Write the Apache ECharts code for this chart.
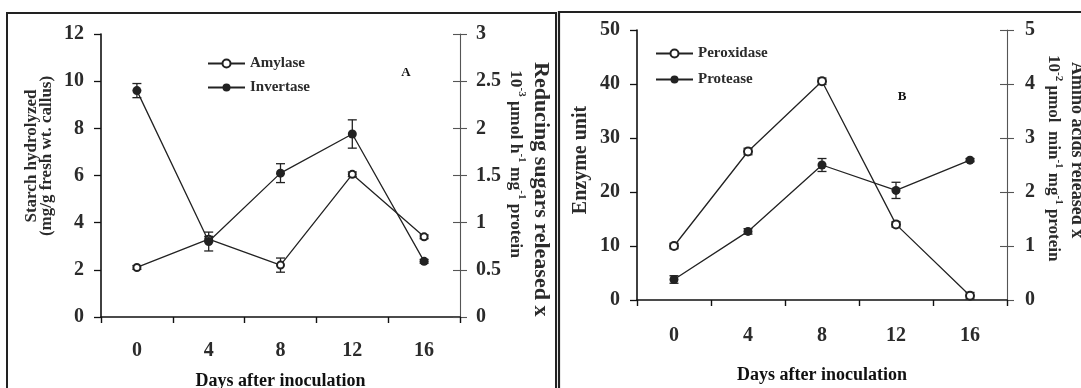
<!DOCTYPE html>
<html>
<head>
<meta charset="utf-8">
<script src="https://cdn.jsdelivr.net/npm/echarts@6/dist/echarts.min.js"></script>
<style>
html,body{margin:0;padding:0;background:#fff;}
#chart{width:1081px;height:388px;}
</style>
</head>
<body>
<div id="chart"></div>
<script>
// ---- data ----
const days = ['0', '4', '8', '12', '16'];
// Panel A
const amylase = [2.1, 3.3, 2.2, 6.05, 3.4];          // mg/g fresh wt. (left axis)
const amylaseErr = [0.08, 0.12, 0.3, 0.1, 0.08];
const invertase = [2.4, 0.8, 1.525, 1.94, 0.59];     // right axis
const invertaseErr = [0.075, 0.1, 0.1, 0.15, 0.02];
// Panel B
const peroxidase = [10, 27.5, 40.5, 14, 0.8];        // enzyme unit (left axis)
const peroxidaseErr = [0.5, 0.6, 0.6, 0.5, 0.6];
const protease = [0.38, 1.27, 2.5, 2.03, 2.59];      // right axis
const proteaseErr = [0.07, 0.05, 0.12, 0.15, 0.03];
// axis scales
const axisA_left = {min: 0, max: 12, interval: 2};
const axisA_right = {min: 0, max: 3, interval: 0.5};
const axisB_left = {min: 0, max: 50, interval: 10};
const axisB_right = {min: 0, max: 5, interval: 1};

const FONT = '"Liberation Serif", "Times New Roman", serif';
const TXT = '#2b2b2b';
const LINE = '#222';

function errData(vals, errs) {
  return vals.map((v, i) => [i, v - errs[i], v + errs[i]]);
}
function errRender(params, api) {
  const x = api.value(0);
  const p1 = api.coord([x, api.value(1)]);
  const p2 = api.coord([x, api.value(2)]);
  const w = 4.5;
  const st = {stroke: LINE, lineWidth: 1.3};
  return {
    type: 'group',
    children: [
      {type: 'line', shape: {x1: p1[0], y1: p1[1], x2: p2[0], y2: p2[1]}, style: st},
      {type: 'line', shape: {x1: p1[0] - w, y1: p1[1], x2: p1[0] + w, y2: p1[1]}, style: st},
      {type: 'line', shape: {x1: p2[0] - w, y1: p2[1], x2: p2[0] + w, y2: p2[1]}, style: st}
    ]
  };
}

function xAxis(grid, labelMargin, nameGap) {
  return {
    type: 'category', gridIndex: grid, data: days, boundaryGap: true,
    axisLine: {lineStyle: {color: '#111', width: 1.6}},
    axisTick: {show: true, length: 6, alignWithLabel: false, lineStyle: {color: '#111', width: 1.4}},
    axisLabel: {color: TXT, fontFamily: FONT, fontWeight: 'bold', fontSize: 20, margin: labelMargin},
    name: 'Days after inoculation', nameLocation: 'middle', nameGap: nameGap,
    nameTextStyle: {color: '#111', fontFamily: FONT, fontWeight: 'bold', fontSize: 18},
    splitLine: {show: false}
  };
}
function yLeft(grid, sc) {
  return {
    type: 'value', gridIndex: grid, position: 'left', min: sc.min, max: sc.max, interval: sc.interval,
    axisLine: {show: true, lineStyle: {color: '#111', width: 1.6}},
    axisTick: {show: true, length: 7, lineStyle: {color: '#111', width: 1.3}},
    axisLabel: {color: TXT, fontFamily: FONT, fontWeight: 'bold', fontSize: 20, margin: 17},
    splitLine: {show: false}
  };
}
function yRight(grid, sc, inside, margin) {
  return {
    type: 'value', gridIndex: grid, position: 'right', min: sc.min, max: sc.max, interval: sc.interval,
    axisLine: {show: !inside, lineStyle: {color: '#555', width: 1.1}},
    axisTick: {show: true, inside: inside, length: 7, lineStyle: {color: '#555', width: 1.1}},
    axisLabel: {show: !inside, color: TXT, fontFamily: FONT, fontWeight: 'bold', fontSize: 20, margin: margin},
    splitLine: {show: false}
  };
}
function lineSeries(name, xi, yi, data, symbol, size) {
  return {
    name: name, type: 'line', xAxisIndex: xi, yAxisIndex: yi, data: data,
    symbol: symbol, symbolSize: size, z: 5,
    lineStyle: {color: LINE, width: 1.3},
    itemStyle: {color: LINE, borderWidth: 1.4},
    animation: false
  };
}
function errSeries(xi, yi, vals, errs) {
  return {
    type: 'custom', xAxisIndex: xi, yAxisIndex: yi, data: errData(vals, errs),
    encode: {x: 0, y: [1, 2]}, renderItem: errRender, z: 4, silent: true, animation: false
  };
}
const legendText = {color: TXT, fontFamily: FONT, fontWeight: 'bold', fontSize: 15};

const option = {
  backgroundColor: '#fff',
  animation: false,
  grid: [
    {left: 101, top: 34, width: 359, height: 283, outerBoundsMode: 'none', containLabel: false},
    {left: 637, top: 30, width: 370, height: 270, outerBoundsMode: 'none', containLabel: false}
  ],
  xAxis: [xAxis(0, 24, 55), xAxis(1, 26, 66)],
  yAxis: [
    yLeft(0, axisA_left),
    yRight(0, axisA_right, false, 16),
    yRight(0, axisA_right, true, 16),
    yLeft(1, axisB_left),
    yRight(1, axisB_right, false, 18),
    yRight(1, axisB_right, true, 18)
  ],
  legend: [
    {data: ['Amylase', 'Invertase'], orient: 'vertical', left: 207, top: 56, padding: 0, itemWidth: 37, itemHeight: 10,
     itemGap: 9, textStyle: legendText},
    {data: ['Peroxidase', 'Protease'], orient: 'vertical', left: 655, top: 46, padding: 0, itemWidth: 37, itemHeight: 10,
     itemGap: 11, textStyle: legendText}
  ],
  series: [
    lineSeries('Amylase', 0, 0, amylase, 'emptyCircle', 7),
    errSeries(0, 0, amylase, amylaseErr),
    lineSeries('Invertase', 0, 1, invertase, 'circle', 9),
    errSeries(0, 1, invertase, invertaseErr),
    lineSeries('Peroxidase', 1, 3, peroxidase, 'emptyCircle', 8),
    errSeries(1, 3, peroxidase, peroxidaseErr),
    lineSeries('Protease', 1, 4, protease, 'circle', 9),
    errSeries(1, 4, protease, proteaseErr)
  ],
  graphic: [
    // panel frames
    {type: 'polyline', shape: {points: [[7, 400], [7, 13], [556, 13], [556, 400]]}, style: {stroke: '#222', lineWidth: 2, fill: null}},
    {type: 'polyline', shape: {points: [[559, 400], [559, 12], [1090, 12]]}, style: {stroke: '#222', lineWidth: 2.2, fill: null}},
    // panel letters
    {type: 'text', x: 406, y: 73, style: {text: 'A', font: 'bold 13px ' + FONT, fill: '#111', textAlign: 'center', textVerticalAlign: 'middle'}},
    {type: 'text', x: 902, y: 97, style: {text: 'B', font: 'bold 13px ' + FONT, fill: '#111', textAlign: 'center', textVerticalAlign: 'middle'}},
    // left axis titles
    {type: 'text', x: 39, y: 156, rotation: Math.PI / 2,
     style: {text: 'Starch hydrolyzed\n(mg/g fresh wt. callus)', font: 'bold 17px ' + FONT, lineHeight: 15,
             fill: TXT, textAlign: 'center', textVerticalAlign: 'middle'}},
    {type: 'text', x: 581, y: 160, rotation: Math.PI / 2,
     style: {text: 'Enzyme unit', font: 'bold 20px ' + FONT, fill: TXT, textAlign: 'center', textVerticalAlign: 'middle'}},
    // right axis titles (read top to bottom)
    {type: 'text', x: 541, y: 62, rotation: -Math.PI / 2,
     style: {text: 'Reducing sugars released x', font: 'bold 22px ' + FONT, fill: TXT, textAlign: 'left', textVerticalAlign: 'middle'}},
    {type: 'text', x: 516, y: 70, rotation: -Math.PI / 2,
     style: {text: '10{sup|-3} µmol h{sup|-1} mg{sup|-1} protein', font: 'bold 17.5px ' + FONT, fill: TXT,
             textAlign: 'left', textVerticalAlign: 'middle', lineHeight: 22,
             rich: {sup: {fontSize: 11, fontWeight: 'bold', fontFamily: FONT, fill: TXT, verticalAlign: 'top', lineHeight: 22}}}},
    {type: 'text', x: 1077, y: 62, rotation: -Math.PI / 2,
     style: {text: 'Amino acids released x', font: 'bold 18px ' + FONT, fill: TXT, textAlign: 'left', textVerticalAlign: 'middle'}},
    {type: 'text', x: 1053, y: 55, rotation: -Math.PI / 2,
     style: {text: '10{sup|-2} µmol  min{sup|-1} mg{sup|-1} protein', font: 'bold 17px ' + FONT, fill: TXT,
             textAlign: 'left', textVerticalAlign: 'middle', lineHeight: 22,
             rich: {sup: {fontSize: 11, fontWeight: 'bold', fontFamily: FONT, fill: TXT, verticalAlign: 'top', lineHeight: 22}}}}
  ]
};

const chart = echarts.init(document.getElementById('chart'), null, {renderer: 'canvas'});
chart.setOption(option);
</script>
</body>
</html>
